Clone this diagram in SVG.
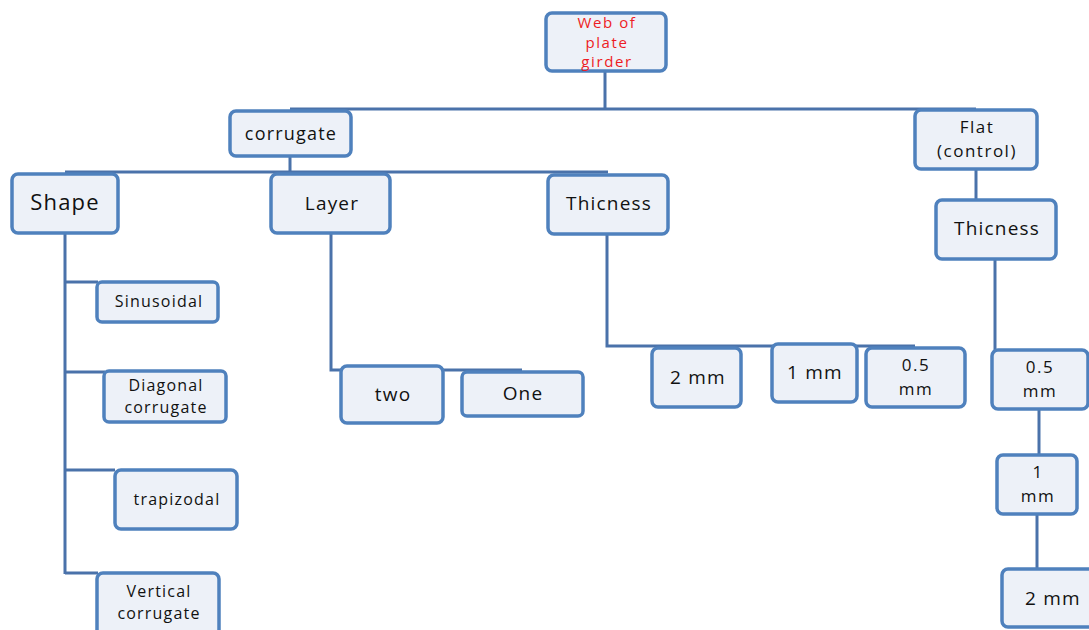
<svg xmlns="http://www.w3.org/2000/svg" width="1089" height="630" viewBox="0 0 1089 630">
<style>
.box{fill:#edf1f8;stroke:#4f81bd;stroke-width:3.5}
.c{fill:none;stroke:#4a72aa;stroke-width:3}
text{font-family:"Open Sans","Noto Sans","Liberation Sans",sans-serif;fill:#111;text-anchor:middle;letter-spacing:1.2px}
.s16{font-size:16px}.s17{font-size:18px}.s18{font-size:19px}.s21{font-size:22px}.m{font-size:17px;letter-spacing:1.5px}
.red{fill:#ee1c24;font-size:15px;letter-spacing:1.6px}
</style>
<rect width="1089" height="630" fill="#fff"/>
<g id="connectors" class="c">
<path d="M605 71V109M290 109H976"/>
<path d="M290 156V172M65 172H608"/>
<path d="M65 233V574M65 282H98M65 372H105M65 470H115M65 573H98"/>
<path d="M331 233V370H522"/>
<path d="M607 234V346H915"/>
<path d="M976 169V200"/>
<path d="M995 259V350"/>
<path d="M1039 410V455"/>
<path d="M1037 514V569"/>
</g>
<g id="root"><rect class="box" x="546" y="13" width="120" height="58" rx="6"/>
<text class="red" x="607" y="28">Web of</text><text class="red" x="607" y="47.5">plate</text><text class="red" x="607" y="67">girder</text></g>
<g id="corrugate"><rect class="box" x="230" y="111" width="121" height="45" rx="6"/><text class="s17" x="291" y="140">corrugate</text></g>
<g id="flat"><rect class="box" x="915" y="110" width="122" height="59" rx="6"/><text class="m" x="977" y="133">Flat</text><text class="m" x="977" y="157">(control)</text></g>
<g id="shape"><rect class="box" x="12" y="174" width="106" height="59" rx="6"/><text class="s21" x="65" y="210">Shape</text></g>
<g id="layer"><rect class="box" x="271" y="174" width="119" height="59" rx="6"/><text class="s18" x="332" y="210">Layer</text></g>
<g id="thicness"><rect class="box" x="548" y="175" width="120" height="59" rx="6"/><text class="s18" x="609" y="210">Thicness</text></g>
<g id="thicness2"><rect class="box" x="936" y="200" width="120" height="59" rx="6"/><text class="s18" x="997" y="235">Thicness</text></g>
<g id="sinusoidal"><rect class="box" x="97" y="282" width="121" height="40" rx="5"/><text class="s16" x="159" y="307">Sinusoidal</text></g>
<g id="diagonal"><rect class="box" x="104" y="371" width="122" height="51" rx="5"/><text class="s16" x="166" y="391">Diagonal</text><text class="s16" x="166" y="413">corrugate</text></g>
<g id="trapizodal"><rect class="box" x="115" y="470" width="122" height="59" rx="6"/><text class="s16" x="177" y="505">trapizodal</text></g>
<g id="vertical"><rect class="box" x="97" y="573" width="122" height="64" rx="6"/><text class="s16" x="159" y="597">Vertical</text><text class="s16" x="159" y="619">corrugate</text></g>
<g id="two"><rect class="box" x="341" y="366" width="102" height="57" rx="6"/><text class="s18" x="393" y="401">two</text></g>
<g id="one"><rect class="box" x="462" y="372" width="121" height="44" rx="5"/><text class="s18" x="523" y="400">One</text></g>
<g id="t2mm"><rect class="box" x="652" y="348" width="89" height="59" rx="6"/><text class="s18" x="698" y="384">2 mm</text></g>
<g id="t1mm"><rect class="box" x="772" y="344" width="85" height="58" rx="6"/><text class="s18" x="815" y="379">1 mm</text></g>
<g id="t05mm"><rect class="box" x="866" y="348" width="99" height="59" rx="6"/><text class="m" x="916" y="371">0.5</text><text class="m" x="916" y="395">mm</text></g>
<g id="f05mm"><rect class="box" x="992" y="350" width="96" height="59" rx="6"/><text class="m" x="1040" y="373">0.5</text><text class="m" x="1040" y="397">mm</text></g>
<g id="f1mm"><rect class="box" x="997" y="455" width="80" height="59" rx="6"/><text class="m" x="1038" y="478">1</text><text class="m" x="1038" y="502">mm</text></g>
<g id="f2mm"><rect class="box" x="1002" y="569" width="100" height="58" rx="6"/><text class="s18" x="1053" y="605">2 mm</text></g>
</svg>
